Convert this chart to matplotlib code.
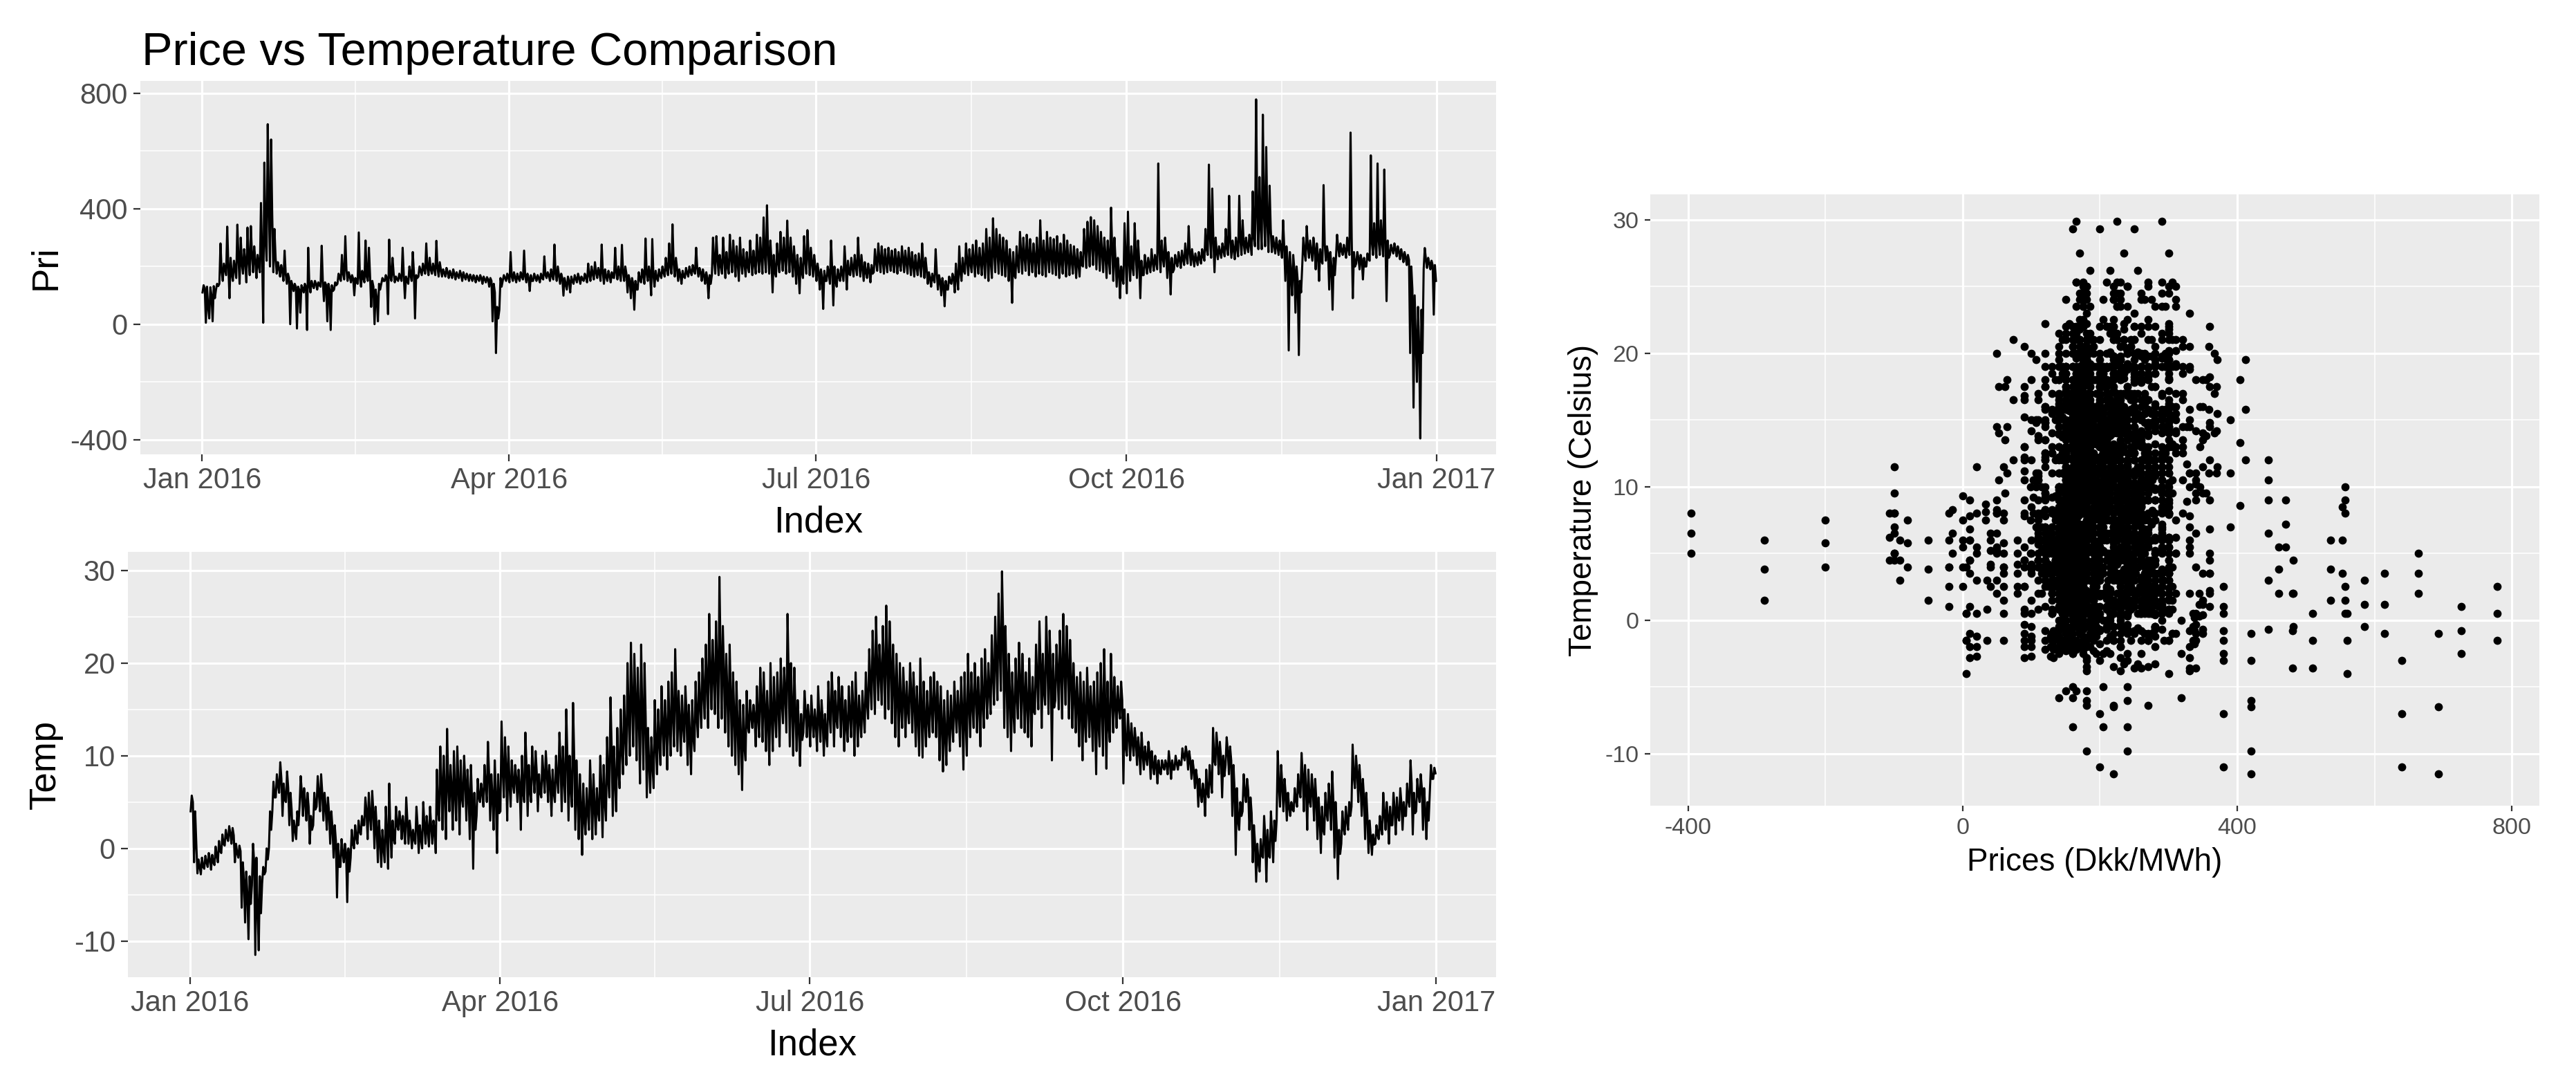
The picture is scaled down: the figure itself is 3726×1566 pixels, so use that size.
import numpy as np
import matplotlib
matplotlib.use("Agg")
import matplotlib.pyplot as plt
import matplotlib.dates as mdates

plt.rcParams['font.family'] = ['Liberation Sans', 'DejaVu Sans']
plt.rcParams['axes.unicode_minus'] = False

# ---------------- data (daily low / typical / high) ----------------
price_lo = [
    110, 5, 20, 10, 120, 140, 150, 170, 90, 150,
    160, 140, 175, 145, 170, 180, 160, 180, 5, 220,
    200, 180, 175, 165, 150, 140, 0, 115, -15, 40,
    110, -20, 110, 125, 120, 130, 80, 10, -20, 120,
    140, 150, 155, 150, 145, 100, 140, 130, 145, 150,
    60, 0, 10, 140, 150, 35, 150, 145, 150, 150,
    90, 140, 150, 20, 165, 170, 175, 170, 175, 170,
    165, 165, 165, 160, 160, 155, 160, 150, 155, 150,
    150, 145, 150, 140, 145, 130, 10, -100, 50, 150,
    150, 145, 150, 145, 150, 155, 145, 115, 150, 150,
    145, 155, 160, 150, 155, 150, 140, 99, 120, 110,
    140, 145, 140, 150, 145, 150, 155, 160, 150, 140,
    150, 145, 160, 155, 150, 150, 110, 90, 50, 120,
    145, 140, 150, 100, 130, 150, 160, 165, 170, 175,
    165, 150, 140, 160, 165, 170, 175, 165, 150, 140,
    90, 170, 175, 170, 175, 160, 175, 180, 165, 150,
    175, 165, 180, 170, 175, 180, 175, 180, 175, 110,
    165, 180, 185, 175, 180, 165, 140, 107, 160, 175,
    170, 165, 150, 120, 53, 150, 140, 65, 130, 150,
    150, 120, 170, 165, 170, 165, 150, 160, 145, 180,
    185, 180, 175, 180, 185, 180, 175, 185, 180, 175,
    170, 165, 170, 165, 160, 140, 130, 145, 120, 100,
    62, 120, 140, 110, 120, 150, 175, 170, 180, 165,
    175, 170, 160, 150, 160, 180, 175, 170, 165, 150,
    74, 160, 180, 175, 185, 170, 180, 165, 175, 170,
    165, 180, 175, 170, 160, 175, 165, 170, 175, 160,
    165, 200, 195, 200, 205, 190, 185, 180, 160, 175,
    150, 130, 90, 140, 107, 150, 170, 160, 90, 170,
    175, 180, 185, 190, 180, 200, 160, 103, 190, 200,
    195, 205, 210, 205, 200, 205, 210, 220, 240, 230,
    180, 225, 230, 235, 240, 230, 225, 235, 240, 245,
    250, 240, 270, 260, 260, 270, 250, 250, 245, 240,
    230, 150, -91, 100, 40, -107, 200, 220, 230, 220,
    190, 150, 210, 220, 120, 50, 230, 235, 240, 230,
    240, 90, 210, 190, 155, 200, 220, 240, 230, 240,
    235, 80, 240, 245, 235, 225, 215, 205, -100, -289,
    -200, -396, 190, 195, 190, 33,
]
price_mid = [
    125, 60, 100, 90, 132, 185, 190, 200, 175, 190,
    230, 210, 215, 220, 240, 220, 205, 240, 300, 420,
    380, 230, 195, 185, 175, 160, 135, 130, 120, 125,
    130, 140, 135, 140, 135, 150, 135, 120, 115, 135,
    160, 175, 190, 165, 158, 145, 160, 160, 165, 170,
    130, 90, 120, 150, 160, 165, 175, 155, 162, 170,
    150, 170, 180, 160, 185, 190, 195, 190, 192, 195,
    190, 178, 180, 172, 175, 168, 172, 165, 165, 162,
    160, 157, 160, 155, 155, 150, 110, 20, 130, 160,
    162, 165, 163, 160, 165, 165, 160, 150, 162, 160,
    160, 170, 170, 168, 175, 170, 160, 140, 150, 150,
    158, 160, 155, 162, 170, 175, 180, 178, 180, 165,
    168, 162, 180, 175, 180, 175, 150, 140, 120, 155,
    170, 175, 175, 170, 160, 170, 180, 190, 200, 210,
    195, 170, 165, 178, 182, 185, 195, 180, 170, 160,
    140, 220, 230, 205, 225, 200, 230, 225, 210, 215,
    210, 200, 225, 210, 230, 230, 240, 250, 220, 180,
    215, 235, 230, 245, 230, 210, 190, 180, 220, 240,
    215, 200, 180, 160, 150, 175, 190, 150, 165, 175,
    200, 175, 195, 200, 210, 195, 180, 185, 175, 215,
    225, 220, 215, 220, 215, 220, 210, 225, 215, 220,
    205, 200, 205, 210, 190, 160, 155, 180, 150, 135,
    120, 145, 160, 160, 180, 185, 220, 210, 220, 215,
    215, 220, 235, 220, 250, 250, 240, 235, 225, 205,
    170, 210, 245, 235, 245, 230, 230, 225, 250, 230,
    235, 240, 230, 235, 220, 240, 225, 220, 220, 210,
    205, 260, 270, 280, 275, 260, 250, 240, 225, 260,
    220, 185, 160, 230, 220, 200, 240, 220, 170, 205,
    205, 215, 215, 250, 230, 240, 210, 180, 215, 225,
    225, 235, 250, 230, 225, 228, 235, 260, 300, 290,
    250, 250, 255, 265, 290, 260, 265, 290, 280, 270,
    280, 300, 380, 340, 380, 350, 330, 275, 270, 265,
    270, 220, 180, 190, 150, 110, 250, 270, 255, 260,
    240, 220, 280, 245, 200, 170, 265, 255, 255, 260,
    300, 200, 230, 220, 200, 225, 280, 280, 290, 285,
    290, 230, 258, 260, 252, 242, 232, 222, 120, -50,
    -80, -100, 225, 212, 205, 150,
]
price_hi = [
    135, 130, 128, 132, 140, 280, 210, 338, 230, 220,
    345, 300, 260, 335, 340, 270, 240, 420, 560, 693,
    640, 330, 215, 205, 255, 175, 150, 140, 130, 135,
    140, 265, 150, 150, 145, 272, 145, 140, 135, 145,
    175, 240, 305, 180, 170, 160, 318, 185, 290, 265,
    150, 120, 140, 160, 170, 293, 230, 165, 175, 265,
    165, 200, 250, 170, 200, 210, 280, 230, 210, 289,
    215, 190, 195, 185, 190, 180, 185, 180, 175, 172,
    170, 168, 170, 165, 163, 160, 140, 60, 160, 170,
    175, 250, 180, 175, 180, 255, 175, 170, 175, 170,
    175, 235, 180, 190, 276, 200, 175, 160, 165, 165,
    170, 175, 165, 175, 210, 200, 215, 195, 276, 190,
    185, 180, 265, 200, 275, 200, 170, 160, 150, 180,
    190, 297, 200, 295, 185, 190, 200, 230, 280, 346,
    230, 190, 185, 195, 200, 205, 265, 195, 190, 180,
    170, 300, 305, 240, 300, 250, 310, 290, 270, 300,
    260, 250, 290, 255, 310, 300, 370, 412, 290, 240,
    280, 320, 300, 359, 300, 270, 240, 230, 305, 326,
    265, 240, 210, 190, 185, 200, 290, 200, 190, 200,
    270, 220, 230, 240, 300, 240, 215, 210, 205, 260,
    280, 270, 260, 265, 255, 260, 250, 270, 255, 265,
    250, 240, 245, 280, 230, 180, 175, 260, 170, 160,
    150, 165, 175, 210, 270, 230, 280, 260, 275, 290,
    265, 280, 330, 300, 367, 330, 310, 300, 290, 260,
    250, 270, 320, 300, 310, 295, 280, 300, 360, 290,
    320, 300, 295, 305, 280, 310, 290, 275, 270, 260,
    250, 330, 355, 371, 360, 340, 320, 300, 290, 404,
    300, 230, 200, 350, 390, 270, 350, 290, 220, 240,
    230, 260, 240, 557, 290, 300, 250, 230, 240, 250,
    255, 280, 340, 260, 245, 250, 260, 330, 553, 470,
    300, 270, 280, 330, 445, 290, 300, 445, 360, 300,
    310, 460, 779, 510, 726, 614, 480, 305, 300, 290,
    360, 270, 250, 240, 200, 150, 300, 340, 290, 300,
    280, 260, 482, 270, 250, 230, 310, 280, 275, 300,
    664, 250, 250, 240, 230, 245, 585, 350, 557, 360,
    536, 290, 275, 280, 270, 260, 250, 240, 200, 100,
    60, 50, 264, 230, 220, 205,
]
temp_lo = [
    4.0, -1.5, -2.7, -2.8, -2.2, -2.0, -2.3, -1.8, -1.5, -0.5,
    0.3, 0.8, 0.5, -1.5, -1.0, -6.4, -8.0, -9.8, -4.0, -11.5,
    -11.0, -3.8, -2.5, 0.0, 4.0, 5.5, 6.0, 3.5, 5.0, 2.5,
    0.8, 1.0, 4.5, 3.5, 3.0, 0.5, 2.5, 4.5, 4.0, 3.0,
    2.0, 0.5, -1.0, -5.3, -2.0, -1.5, -5.8, -1.0, 0.0, 0.5,
    1.5, 2.5, 1.0, 2.0, 0.0, -1.5, -2.0, -1.5, -2.2, -1.0,
    0.5, 2.0, 1.0, 0.5, 0.5, 0.0, 0.5, -0.5, 0.0, 0.5,
    0.2, 0.5, -0.5, 3.0, 2.0, 1.0, 4.0, 2.0, 3.0, 1.5,
    4.5, 3.0, 1.0, -2.2, 3.5, 5.0, 4.5, 5.0, 3.0, 2.0,
    -0.5, 4.0, 5.5, 3.0, 4.5, 6.0, 5.0, 2.0, 5.0, 3.5,
    5.0, 6.0, 4.0, 5.5, 6.0, 5.0, 3.5, 5.0, 6.0, 4.0,
    5.0, 3.0, 4.5, 2.0, 1.0, -0.7, 1.5, 2.0, 1.0, 1.5,
    3.0, 1.2, 3.0, 5.5, 3.5, 4.0, 6.5, 8.0, 9.0, 10.0,
    11.0, 9.5, 7.0, 8.5, 5.5, 6.0, 6.5, 8.0, 9.0, 10.0,
    8.5, 10.0, 11.0, 10.5, 10.0, 11.5, 9.0, 8.0, 10.5, 12.0,
    13.0, 14.0, 13.0, 15.0, 14.5, 13.0, 14.0, 12.5, 11.0, 10.0,
    9.0, 8.0, 6.3, 9.5, 12.5, 13.0, 11.0, 12.0, 11.5, 10.5,
    9.0, 10.5, 12.0, 11.0, 13.5, 12.5, 11.0, 10.0, 10.5, 8.9,
    12.5, 12.0, 11.0, 12.0, 10.5, 11.5, 10.0, 11.0, 12.5, 11.0,
    13.0, 12.0, 10.5, 11.5, 12.0, 10.0, 11.0, 12.0, 12.5, 14.0,
    15.0, 14.5, 16.0, 15.5, 14.0, 15.0, 13.5, 12.0, 11.0, 13.0,
    12.0, 13.5, 12.5, 11.0, 10.0, 9.8, 11.0, 12.0, 12.5, 12.0,
    9.5, 8.3, 9.0, 10.5, 11.5, 12.5, 11.0, 8.5, 10.0, 12.0,
    13.0, 12.5, 11.0, 13.0, 14.0, 14.5, 15.5, 16.0, 17.0, 13.0,
    12.0, 10.5, 12.5, 14.0, 13.0, 12.5, 12.0, 11.0, 14.5, 15.0,
    13.0, 15.5, 14.5, 9.5, 16.0, 15.0, 14.0, 15.5, 14.0, 13.0,
    12.5, 11.0, 9.5, 11.5, 12.0, 10.5, 8.0, 11.0, 10.0, 8.6,
    11.5, 12.5, 13.0, 14.0, 7.0, 10.0, 9.5, 10.0, 9.0, 8.0,
    8.5, 9.0, 7.5, 8.0, 7.0, 8.0, 8.5, 8.0, 7.5, 8.5,
    8.5, 9.0, 9.5, 8.5, 7.5, 6.5, 4.5, 5.0, 3.5, 5.5,
    6.0, 9.0, 8.0, 5.5, 9.0, 8.0, 3.5, -0.7, 2.0, 4.0,
    5.0, 2.0, -1.5, -3.6, -2.5, -1.0, -3.6, -1.0, -1.5, 3.0,
    4.5, 4.0, 3.0, 3.5, 4.0, 4.5, 5.5, 4.0, 2.0, 4.5,
    3.0, 1.0, -0.5, 1.5, 3.0, 2.0, -1.0, -3.3, 0.5, 1.5,
    2.0, 4.5, 6.5, 5.0, 3.5, 1.0, -0.5, -0.7, 0.5, 1.0,
    1.5, 2.0, 0.5, 2.5, 1.5, 3.0, 2.0, 3.5, 4.5, 1.5,
    4.0, 5.0, 2.0, 1.0, 6.0, 7.5,
]
temp_mid = [
    5.0, 0.5, -2.0, -2.0, -1.5, -1.2, -1.5, -0.8, -0.3, 0.5,
    1.2, 1.6, 1.4, -0.5, -0.3, -3.5, -5.0, -6.0, -1.5, -6.5,
    -7.0, -2.8, -1.2, 2.0, 5.5, 6.8, 7.5, 5.2, 6.5, 4.2,
    2.0, 2.5, 6.0, 5.0, 4.5, 2.0, 4.2, 6.0, 6.0, 4.5,
    3.8, 2.2, 0.8, -2.0, -0.5, -0.5, -2.5, 0.5, 1.2, 1.8,
    2.5, 4.0, 3.5, 4.0, 2.2, 0.8, 0.0, 1.5, 2.0, 1.0,
    2.5, 3.0, 2.2, 3.0, 1.8, 1.0, 2.5, 1.0, 2.5, 2.0,
    2.3, 1.8, 4.0, 7.0, 6.0, 7.0, 6.5, 6.0, 7.0, 5.5,
    7.2, 5.8, 5.0, 2.0, 5.5, 6.0, 6.8, 8.0, 5.5, 5.8,
    3.8, 8.5, 8.8, 7.0, 7.0, 7.5, 6.8, 6.0, 8.8, 6.2,
    8.0, 8.2, 6.0, 7.8, 8.2, 7.0, 6.0, 7.5, 9.2, 7.5,
    10.0, 6.5, 10.0, 5.8, 4.5, 3.2, 4.0, 5.8, 4.5, 4.0,
    6.5, 5.0, 7.5, 11.0, 7.2, 8.5, 10.8, 12.2, 14.5, 16.0,
    16.0, 14.5, 14.5, 14.2, 9.2, 9.0, 11.2, 11.5, 13.2, 13.0,
    13.2, 14.5, 16.2, 13.8, 13.2, 14.5, 12.2, 12.0, 14.2, 15.5,
    16.8, 18.0, 19.0, 18.8, 19.5, 21.0, 19.0, 16.8, 16.5, 14.5,
    13.5, 12.0, 11.0, 13.2, 14.2, 14.2, 14.2, 15.8, 15.2, 13.8,
    14.5, 14.5, 15.5, 15.8, 16.5, 18.9, 15.5, 14.8, 13.2, 11.7,
    14.8, 13.8, 13.8, 13.5, 14.0, 13.8, 12.2, 14.5, 15.8, 14.0,
    15.8, 14.8, 13.2, 14.5, 15.0, 14.5, 13.8, 14.5, 15.8, 17.8,
    19.2, 19.8, 19.0, 19.8, 20.1, 19.8, 17.8, 16.5, 15.5, 16.2,
    15.0, 16.8, 15.8, 14.2, 15.2, 13.9, 14.0, 15.2, 15.8, 15.0,
    13.5, 12.2, 13.0, 13.5, 14.8, 14.8, 14.8, 13.8, 15.5, 15.5,
    16.5, 15.5, 15.8, 17.2, 17.0, 18.8, 20.2, 21.8, 23.5, 18.5,
    16.5, 14.8, 16.5, 18.1, 17.0, 15.8, 16.2, 14.8, 18.2, 19.8,
    17.0, 20.2, 19.0, 15.2, 19.0, 19.2, 19.6, 19.8, 18.2, 16.5,
    15.5, 15.0, 13.8, 15.5, 14.8, 14.2, 13.5, 15.5, 15.8, 13.3,
    16.2, 15.5, 15.2, 16.0, 11.0, 12.2, 11.5, 11.5, 10.5, 10.2,
    9.8, 10.2, 9.0, 9.0, 8.2, 8.8, 9.0, 9.2, 8.5, 9.2,
    9.0, 9.9, 10.2, 9.5, 8.5, 7.5, 6.0, 6.0, 6.0, 7.2,
    9.5, 10.8, 9.8, 7.8, 10.5, 9.5, 6.2, 3.0, 3.5, 6.0,
    6.2, 3.8, 0.5, -1.5, -0.8, 1.2, -0.8, 1.5, 0.8, 6.8,
    6.8, 5.8, 4.5, 4.2, 5.2, 6.2, 7.9, 6.5, 5.2, 6.2,
    5.2, 3.2, 2.0, 3.8, 5.0, 5.2, 2.0, -0.6, 2.2, 3.0,
    3.5, 7.8, 8.2, 7.0, 5.5, 3.5, 1.2, 0.4, 1.5, 2.2,
    3.8, 3.5, 2.5, 4.2, 3.5, 4.8, 3.5, 5.2, 7.0, 3.8,
    5.8, 6.5, 4.2, 3.0, 7.5, 8.1,
]
temp_hi = [
    5.7, 4.0, -1.2, -1.0, -0.8, -0.5, -0.7, 0.2, 0.8, 1.5,
    2.0, 2.4, 2.2, 0.5, 0.3, -1.5, -2.5, -3.0, 0.5, -1.0,
    -3.0, -2.0, 0.0, 4.0, 7.2, 8.0, 9.3, 7.0, 8.3, 6.0,
    3.0, 4.0, 7.8, 6.5, 6.0, 3.5, 6.0, 7.8, 8.0, 6.0,
    5.5, 4.0, 2.5, 0.5, 1.0, 0.5, 0.0, 2.0, 2.5, 3.0,
    3.5, 5.5, 6.0, 6.2, 4.5, 3.0, 2.0, 4.5, 7.0, 3.0,
    4.5, 4.0, 3.5, 5.5, 3.0, 2.0, 4.5, 2.5, 5.0, 3.5,
    4.5, 3.0, 8.5, 11.0, 10.0, 12.9, 9.0, 10.5, 11.0, 9.5,
    10.0, 8.5, 9.0, 6.0, 7.5, 7.0, 9.0, 11.5, 8.0, 9.5,
    8.0, 13.7, 12.0, 11.0, 9.5, 9.0, 8.5, 10.0, 12.5, 9.0,
    11.0, 10.5, 8.0, 10.0, 10.5, 9.0, 8.5, 10.0, 12.5, 11.0,
    15.0, 10.0, 15.7, 9.5, 8.0, 7.0, 6.5, 9.5, 8.0, 6.5,
    10.0, 9.0, 12.0, 16.3, 11.0, 13.0, 15.0, 16.5, 20.0, 22.2,
    21.0, 19.5, 22.0, 20.0, 13.0, 12.0, 16.0, 15.0, 17.5, 16.0,
    18.0, 19.0, 21.5, 17.0, 16.5, 17.5, 15.5, 16.0, 18.0, 19.0,
    20.5, 22.0, 25.3, 22.5, 24.5, 29.3, 24.0, 21.0, 22.0, 19.0,
    18.0, 16.0, 15.5, 17.0, 16.0, 15.5, 17.5, 19.5, 19.0, 17.0,
    20.0, 18.5, 19.0, 20.5, 19.5, 25.3, 20.0, 19.5, 16.0, 14.5,
    17.0, 15.5, 16.5, 15.0, 17.5, 16.0, 14.5, 18.0, 19.0, 17.0,
    18.5, 17.5, 16.0, 17.5, 18.0, 19.0, 16.5, 17.0, 19.0, 21.5,
    23.5, 25.0, 22.0, 24.0, 26.2, 24.5, 22.0, 21.0, 20.0, 19.5,
    18.0, 20.0, 19.0, 17.5, 20.5, 18.0, 17.0, 18.5, 19.0, 18.0,
    17.5, 16.0, 17.0, 16.5, 18.0, 17.0, 18.5, 19.0, 21.0, 19.0,
    20.0, 18.5, 20.5, 21.5, 20.0, 23.0, 25.0, 27.5, 29.9, 24.0,
    21.0, 19.0, 20.5, 22.2, 21.0, 19.0, 20.5, 18.5, 22.0, 24.5,
    21.0, 25.0, 23.5, 21.0, 22.0, 23.5, 25.3, 24.0, 22.5, 20.0,
    18.5, 19.0, 18.0, 19.5, 17.5, 18.0, 19.0, 20.0, 21.5, 18.0,
    21.0, 18.5, 17.5, 18.0, 15.0, 14.5, 13.5, 13.0, 12.0, 12.5,
    11.0, 11.5, 10.5, 10.0, 9.5, 9.5, 9.5, 10.5, 9.5, 10.0,
    9.5, 10.8, 11.0, 10.5, 9.5, 8.5, 7.5, 7.0, 8.5, 9.0,
    13.0, 12.5, 11.5, 10.0, 12.0, 11.0, 9.0, 6.5, 5.0, 8.0,
    7.5, 5.5, 2.5, 0.5, 1.0, 3.5, 2.0, 4.0, 3.0, 10.5,
    9.0, 7.5, 6.0, 5.0, 6.5, 8.0, 10.3, 9.0, 8.5, 8.0,
    7.5, 5.5, 4.5, 6.0, 7.0, 8.3, 5.0, 2.0, 4.0, 4.5,
    5.0, 11.2, 10.0, 9.0, 7.5, 6.0, 3.0, 1.5, 2.5, 3.5,
    6.0, 5.0, 4.5, 6.0, 5.5, 6.5, 5.0, 7.0, 9.5, 6.0,
    7.5, 8.0, 6.5, 5.0, 9.0, 8.7,
]

date_breaks = ['2016-01-01', '2016-04-01', '2016-07-01', '2016-10-01', '2017-01-01']
date_labels = ['Jan 2016', 'Apr 2016', 'Jul 2016', 'Oct 2016', 'Jan 2017']
price_ticks = [-400, 0, 400, 800]
temp_ticks = [-10, 0, 10, 20, 30]
scatter_x_ticks = [-400, 0, 400, 800]

title_text = 'Price vs Temperature Comparison'

# ---------------- build series ----------------
start = np.datetime64('2016-01-01T00:00', 'm')
days = np.arange(len(price_lo)).astype('timedelta64[D]')
t_day = start + days


def interleave(lo, hi, mid):
    n = len(lo)
    x = np.empty(3 * n, dtype='datetime64[m]')
    x[0::3] = t_day + np.timedelta64(3, 'h')
    x[1::3] = t_day + np.timedelta64(11, 'h')
    x[2::3] = t_day + np.timedelta64(19, 'h')
    y = np.empty(3 * n)
    y[0::3] = lo
    y[1::3] = hi
    y[2::3] = mid
    return x, y


px, py = interleave(price_lo, price_hi, price_mid)
tx, ty = interleave(temp_lo, temp_hi, temp_mid)

break_nums = mdates.date2num(np.array(date_breaks, dtype='datetime64[D]'))
minor_nums = (break_nums[:-1] + break_nums[1:]) / 2
start_num = mdates.date2num(np.datetime64('2016-01-01'))

# ---------------- figure ----------------
W, H = 3726, 1566
fig = plt.figure(figsize=(W / 100, H / 100), dpi=100)


def frac(l, t, r, b):
    return [l / W, 1 - b / H, (r - l) / W, (b - t) / H]


def gg(ax, tick_size, tick_len):
    ax.set_facecolor('#EBEBEB')
    for s in ax.spines.values():
        s.set_visible(False)
    ax.set_axisbelow(True)
    ax.grid(which='major', color='white', lw=2.3)
    ax.grid(which='minor', color='white', lw=1.1)
    ax.tick_params(which='major', length=tick_len, width=1.6, color='#333333',
                   labelcolor='#4D4D4D', labelsize=tick_size, pad=5)
    ax.tick_params(which='minor', length=0)


ax1 = fig.add_axes(frac(203, 117, 2164, 657))
ax2 = fig.add_axes(frac(185, 798, 2164, 1413))
ax3 = fig.add_axes(frac(2387, 281, 3673, 1165))

# price line
ax1.plot(px, py, color='black', lw=2.2)
ax1.set_ylim(-451, 843)
ax1.set_yticks(price_ticks)
ax1.set_yticks([-200, 200, 600], minor=True)

# temperature line
ax2.plot(tx, ty, color='black', lw=2.2)
ax2.set_ylim(-13.9, 32.0)
ax2.set_yticks(temp_ticks)
ax2.set_yticks([-5, 5, 15, 25], minor=True)

for ax in (ax1, ax2):
    ax.set_xlim(start_num - 18.3, start_num + 383.6)
    ax.set_xticks(break_nums)
    ax.set_xticklabels(date_labels)
    ax.set_xticks(minor_nums, minor=True)
    gg(ax, 30, 7)
    ax.tick_params(axis='y', pad=6)
    ax.tick_params(axis='x', pad=6)

ax1.set_xlabel('Index', fontsize=38)
ax1.xaxis.set_label_coords(0.5, (657 - 769) / 540)
ax1.xaxis.label.set_va('baseline')
ax1.set_ylabel('Pri', fontsize=38)
ax1.yaxis.set_label_coords((81 - 203) / 1961, 0.5)
ax1.yaxis.label.set_va('baseline')

ax2.set_xlabel('Index', fontsize=38)
ax2.xaxis.set_label_coords(0.5, (1413 - 1526) / 615)
ax2.xaxis.label.set_va('baseline')
ax2.set_ylabel('Temp', fontsize=38)
ax2.yaxis.set_label_coords((80 - 185) / 1979, 0.5)
ax2.yaxis.label.set_va('baseline')

# scatter: every pairing of the day's price readings with the day's temperature readings
p_sets = [price_lo, price_mid, price_hi]
t_sets = [temp_lo, temp_mid, temp_hi]
sx = np.concatenate([np.asarray(p) for p in p_sets for _ in t_sets])
sy = np.concatenate([np.asarray(t) for _ in p_sets for t in t_sets])
ax3.scatter(sx, sy, s=72, color='black', linewidths=0)
ax3.set_xlim(-455, 840)
ax3.set_ylim(-13.9, 31.9)
ax3.set_xticks(scatter_x_ticks)
ax3.set_xticks([-200, 200, 600], minor=True)
ax3.set_yticks(temp_ticks)
ax3.set_yticks([-5, 5, 15, 25], minor=True)
gg(ax3, 24.5, 6)
ax3.tick_params(axis='both', pad=6)
ax3.set_xlabel('Prices (Dkk/MWh)', fontsize=33)
ax3.xaxis.set_label_coords(0.5, (1165 - 1259) / 884)
ax3.xaxis.label.set_va('baseline')
ax3.set_ylabel('Temperature (Celsius)', fontsize=33)
ax3.yaxis.set_label_coords((2302 - 2387) / 1286, 0.5)
ax3.yaxis.label.set_va('baseline')

fig.text(205 / W, 1 - 94 / H, title_text, fontsize=48, ha='left', va='baseline', color='black')

fig.savefig('out.png', dpi=100, facecolor='white')
